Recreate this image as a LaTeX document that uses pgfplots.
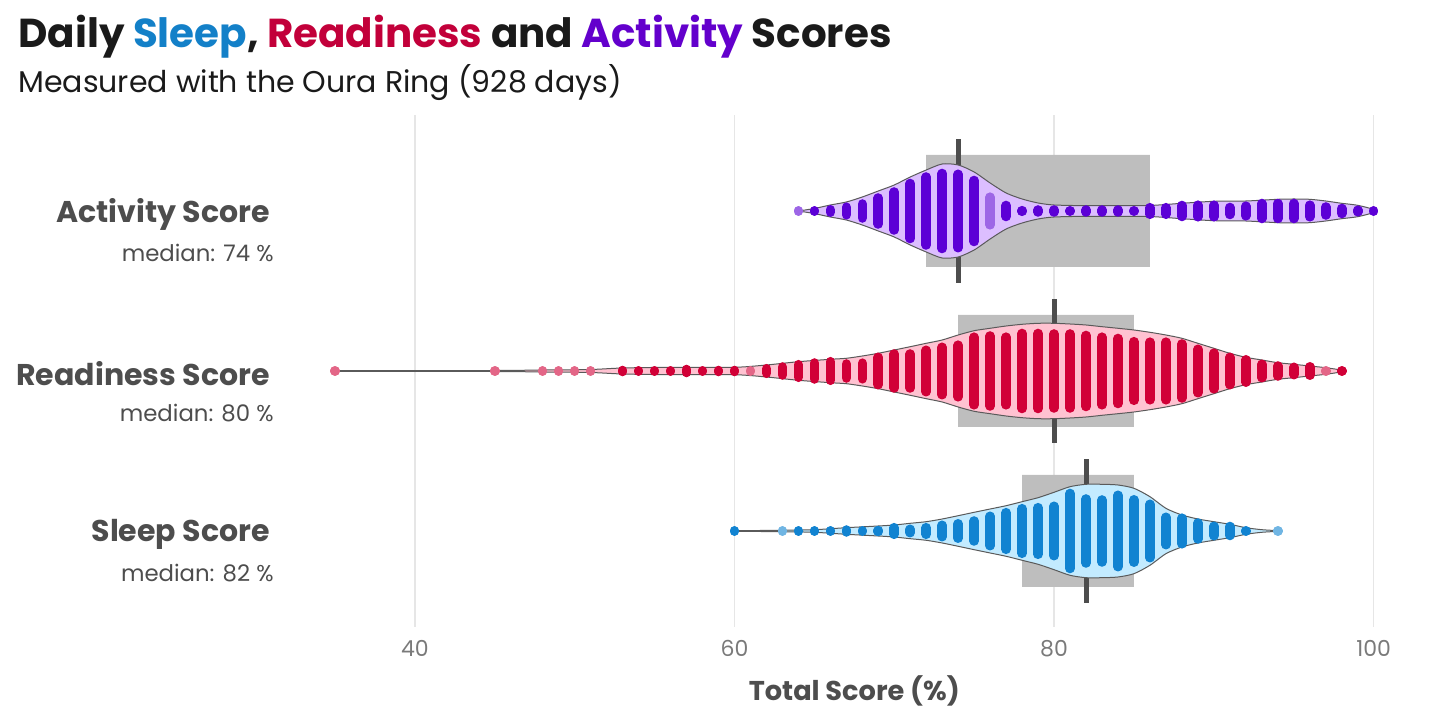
\documentclass[border=0pt]{standalone}
\usepackage{pgfplots}
\pgfplotsset{compat=1.18}
\usepackage{pgfplotstable}
\usepackage{fontspec}
\setmainfont{Poppins}
\definecolor{actdot}{HTML}{5C00D6}
\definecolor{actfill}{HTML}{DCBEFF}
\definecolor{readot}{HTML}{D10037}
\definecolor{reafill}{HTML}{FFC2D1}
\definecolor{slpdot}{HTML}{1183D1}
\definecolor{slpfill}{HTML}{C3EBFF}
\definecolor{tslp}{HTML}{1380C8}
\definecolor{trea}{HTML}{C2003A}
\definecolor{tact}{HTML}{6300CC}
\definecolor{gridc}{HTML}{E6E6E6}
\definecolor{boxc}{HTML}{BEBEBE}
\definecolor{medc}{HTML}{4D4D4D}
\definecolor{vioc}{HTML}{5A5A5A}
\definecolor{labc}{HTML}{4D4D4D}
\definecolor{tickc}{HTML}{7A7A7A}
\definecolor{titc}{HTML}{1A1A1A}

% dot columns: x = score, h = half extent of the column in px
\pgfplotstableread{
x h
65 0.1
66 1.2
67 3.8
68 7
69 13
70 19
71 27.5
72 34
73 37.5
74 36.7
75 30.5
77 5.5
78 0.3
79 1
80 1
81 0.1
82 1
83 1
84 1
85 0.1
86 3.3
87 3.3
88 5.5
89 5.8
90 5.8
91 3.5
92 4.8
93 7.5
94 7.5
95 7.5
96 5.8
97 4
98 2.5
99 0.8
100 0.1
}\actdots
\pgfplotstableread{
x h
64 0.1
76 13.8
}\actlight
\pgfplotstableread{
x h
53 0.5
54 0.1
55 0.1
56 0.1
57 1.5
58 0.1
59 0.5
60 0.5
62 2.3
63 4
64 6.3
65 8
66 9.3
67 7
68 7.8
69 13.7
70 17
71 17
72 20.7
73 23.7
74 25.8
75 33.8
76 35
77 33.8
78 37.5
79 37.5
80 37
81 37
82 35.5
83 33.8
84 32.5
85 29.3
86 28.8
87 28.8
88 27
89 21.7
90 17.8
91 13.7
92 11.2
93 6.7
94 5
95 3.7
96 4.2
98 0.1
}\readots
\pgfplotstableread{
x h
35 0.1
45 0.1
48 0.1
49 0.1
50 0.1
51 0.1
61 0.1
97 0.1
}\realight
\pgfplotstableread{
x h
60 0.1
64 0.1
65 0.1
66 0.1
67 1
68 0.1
69 0.5
70 3.3
71 1.7
72 3.3
73 5.7
74 7.2
75 10
76 14.7
77 18.3
78 22.3
79 23.3
80 24.7
81 37.5
82 32
83 31
84 35.7
85 31.2
86 26.7
87 13.7
88 12.8
89 8
90 4.7
91 4.5
92 0.1
}\slpdots
\pgfplotstableread{
x h
63 0.1
94 0.1
}\slplight

% violin outlines: signed half-widths in px (upper edge left to right, lower edge back)
\pgfplotstableread{
x w
64 0
65 2.5
66 6
67 9
68 14
69 20
70 26
71 34
72 41
73 47
74 46
75 39
76 28
77 18
78 12
79 8
80 6
82 5.3
84 5.3
86 5.5
88 7.7
90 9.7
92 10
94 11.7
95 12
96 11.7
97 10
98 7.7
99 5.7
100 1.5
100 -1.5
99 -5.7
98 -7.7
97 -10
96 -11.7
95 -12
94 -11.7
92 -10
90 -9.7
88 -7.7
86 -5.5
84 -5.3
82 -5.3
80 -6
79 -8
78 -12
77 -18
76 -28
75 -39
74 -46
73 -47
72 -41
71 -34
70 -26
69 -20
68 -14
67 -9
66 -6
65 -2.5
}\actvio
\pgfplotstableread{
x w
35 0.3
45 0.5
48 1
51 1.5
53 3
56 3.7
60 3.7
62 6
64 9.3
66 11.7
67 12.7
68 15
69 17.7
70 21
71 24.3
72 27.7
73 31
74 36
75 40.3
76 42.7
77 45
78 46.7
79 47.7
80 47.7
81 47
82 46
83 44.3
84 42.7
85 41
86 38.7
87 36
88 32.7
89 27.7
90 22.7
91 17.7
92 13.7
93 11
94 8.3
95 6.7
96 5
97 3.3
98 0.8
98 -0.8
97 -3.3
96 -5
95 -6.7
94 -8.3
93 -11
92 -13.7
91 -17.7
90 -22.7
89 -27.7
88 -32.7
87 -36
86 -38.7
85 -41
84 -42.7
83 -44.3
82 -46
81 -47
80 -47.7
79 -47.7
78 -46.7
77 -45
76 -42.7
75 -40.3
74 -36
73 -31
72 -27.7
71 -24.3
70 -21
69 -17.7
68 -15
67 -12.7
66 -11.7
64 -9.3
62 -6
60 -3.7
56 -3.7
53 -3
51 -1.5
48 -1
45 -0.5
35 -0.3
}\reavio
\pgfplotstableread{
x w
60 0.3
63 0.7
65 1.3
67 3.3
69 5
70 6
71 7.7
72 9.3
73 12
74 15.3
75 18.7
76 22
77 25.3
78 29.3
79 33.3
80 38.7
81 44.3
82 46.7
83 46.7
84 46
85 42.7
86 34.3
87 22.7
88 16
89 12
90 9.3
91 6.7
92 3.3
93 1.3
94 0.3
94 -0.3
93 -1.3
92 -3.3
91 -6.7
90 -9.3
89 -12
88 -16
87 -22.7
86 -34.3
85 -42.7
84 -46
83 -46.7
82 -46.7
81 -44.3
80 -38.7
79 -33.3
78 -29.3
77 -25.3
76 -22
75 -18.7
74 -15.3
73 -12
72 -9.3
71 -7.7
70 -6
69 -5
67 -3.3
65 -1.3
63 -0.7
60 -0.3
}\slpvio

\begin{document}
\begin{tikzpicture}
\path[use as bounding box] (0,0) rectangle (720pt,360.5pt);
\node[anchor=base west, inner sep=0pt, text=titc, font=\fontsize{20.2}{22}\selectfont\bfseries] at (9pt,336.5pt)
  {Daily \textcolor{tslp}{Sleep}, \textcolor{trea}{Readiness} and \textcolor{tact}{Activity} Scores};
\node[anchor=base west, inner sep=0pt, text=titc, font=\fontsize{15}{17}\selectfont] at (9pt,314pt)
  {Measured with the Oura Ring (928 days)};
\begin{axis}[
  at={(141.5pt,47pt)}, anchor=south west,
  scale only axis, width=571.3pt, height=256pt,
  xmin=31.75, xmax=103.25, ymin=0.4, ymax=3.6,
  axis line style={draw=none},
  xtick={40,60,80,100}, ytick=\empty,
  major tick length=0pt,
  xmajorgrids, grid style={color=gridc, line width=0.7pt},
  xticklabel style={font=\fontsize{11}{13}\selectfont, text=tickc, yshift=-3pt},
  /pgf/number format/assume math mode=true,
  xlabel={\bfseries Total Score (\%)},
  xlabel style={font=\fontsize{13.6}{15}\selectfont, text=labc, yshift=-2.5pt},
  clip=false,
  dotcol/.style={draw=none, mark=none, error bars/.cd, y dir=both, y explicit, error mark=none,
   error bar style={draw=#1, line width=4.8pt, line cap=round}},
]
% IQR boxes
\addplot[fill=boxc, draw=none] coordinates {(72,2.65) (86,2.65) (86,3.35) (72,3.35) (72,2.65)};
\addplot[fill=boxc, draw=none] coordinates {(74,1.65) (85,1.65) (85,2.35) (74,2.35) (74,1.65)};
\addplot[fill=boxc, draw=none] coordinates {(78,0.65) (85,0.65) (85,1.35) (78,1.35) (78,0.65)};
% medians
\addplot[medc, line width=2.5pt] coordinates {(74,2.55) (74,3.45)};
\addplot[medc, line width=2.5pt] coordinates {(80,1.55) (80,2.45)};
\addplot[medc, line width=2.5pt] coordinates {(82,0.55) (82,1.45)};
% violins
\addplot[fill=actfill, draw=vioc, line width=0.5pt, smooth, tension=0.45] table[x=x, y expr=3+\thisrow{w}/160] \actvio -- cycle;
\addplot[fill=reafill, draw=vioc, line width=0.5pt, smooth, tension=0.45] table[x=x, y expr=2+\thisrow{w}/160] \reavio -- cycle;
\addplot[fill=slpfill, draw=vioc, line width=0.5pt, smooth, tension=0.45] table[x=x, y expr=1+\thisrow{w}/160] \slpvio -- cycle;
% dot columns
\addplot[dotcol={actdot!60!white}] table[x=x, y expr=3, y error expr=\thisrow{h}/160] \actlight;
\addplot[dotcol={actdot}] table[x=x, y expr=3, y error expr=\thisrow{h}/160] \actdots;
\addplot[dotcol={readot!60!white}] table[x=x, y expr=2, y error expr=\thisrow{h}/160] \realight;
\addplot[dotcol={readot}] table[x=x, y expr=2, y error expr=\thisrow{h}/160] \readots;
\addplot[dotcol={slpdot!60!white}] table[x=x, y expr=1, y error expr=\thisrow{h}/160] \slplight;
\addplot[dotcol={slpdot}] table[x=x, y expr=1, y error expr=\thisrow{h}/160] \slpdots;
% category labels
\node[anchor=east, inner sep=0pt, text=labc, font=\fontsize{15}{17}\selectfont\bfseries, xshift=-6.5pt, yshift=-1.5pt] at (axis cs:31.75,3) {Activity Score};
\node[anchor=east, inner sep=0pt, text=labc, font=\fontsize{11.4}{13}\selectfont, xshift=-4.5pt] at (axis cs:31.75,2.7375) {median: 74 \%};
\node[anchor=east, inner sep=0pt, text=labc, font=\fontsize{15}{17}\selectfont\bfseries, xshift=-6.5pt, yshift=-1.5pt] at (axis cs:31.75,2) {Readiness Score};
\node[anchor=east, inner sep=0pt, text=labc, font=\fontsize{11.4}{13}\selectfont, xshift=-4.5pt] at (axis cs:31.75,1.7375) {median: 80 \%};
\node[anchor=east, inner sep=0pt, text=labc, font=\fontsize{15}{17}\selectfont\bfseries, xshift=-6.5pt, yshift=-1.5pt] at (axis cs:31.75,1) {Sleep Score};
\node[anchor=east, inner sep=0pt, text=labc, font=\fontsize{11.4}{13}\selectfont, xshift=-4.5pt] at (axis cs:31.75,0.7375) {median: 82 \%};
\end{axis}
\end{tikzpicture}
\end{document}
